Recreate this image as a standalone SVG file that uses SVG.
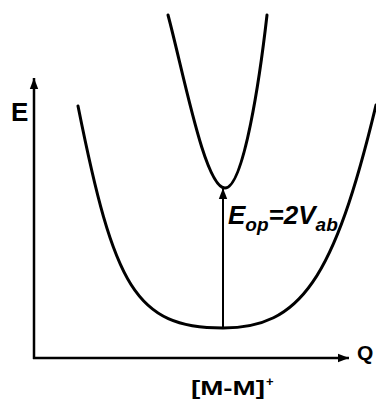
<svg xmlns="http://www.w3.org/2000/svg" width="376" height="400" viewBox="0 0 376 400">
<style>
.curve{fill:none;stroke:#000;stroke-width:3;stroke-linecap:round;stroke-linejoin:round}
.axis{fill:none;stroke:#000;stroke-width:2.5}
.arr{fill:none;stroke:#000;stroke-width:2}
.lbl{font-family:"Liberation Sans",Arial,sans-serif;font-weight:bold;fill:#000}
.it{font-style:italic}
</style>
<defs>
<marker id="ah" markerUnits="userSpaceOnUse" markerWidth="12" markerHeight="10" refX="11" refY="5" orient="auto">
<path d="M0,0.8 L11,5 L0,9.2 Z" fill="#000"/>
</marker>
</defs>
<g id="connectors">
<line id="y-axis" class="axis" x1="34" y1="359" x2="34" y2="78" marker-end="url(#ah)"/>
<line id="x-axis" class="axis" x1="33" y1="358" x2="349" y2="358" marker-end="url(#ah)"/>
<line id="transition" class="arr" x1="223" y1="328" x2="223" y2="188" marker-end="url(#ah)"/>
</g>
<g id="ground-curve">
<path class="curve" d="M78,106 C114,286 135,328 223,328 C300,328 334,280 376,105"/>
</g>
<g id="excited-curve">
<path class="curve" d="M168,15 C184,75 205,188 225,188 C244,188 260.2,75 267,15"/>
</g>
<g id="label-E">
<text class="lbl" x="11" y="121" font-size="26">E</text>
</g>
<g id="label-Q">
<text class="lbl" x="357" y="360" font-size="21">Q</text>
</g>
<g id="label-Eop">
<text class="lbl it" x="228" y="224" font-size="26">E<tspan font-size="19" dy="7">op</tspan><tspan dy="-7">=2V</tspan><tspan font-size="19" dy="7">ab</tspan></text>
</g>
<g id="label-MM">
<text class="lbl" x="191" y="395" font-size="20" textLength="74" lengthAdjust="spacingAndGlyphs">[M-M]</text>
<text class="lbl" x="266" y="386" font-size="13">+</text>
</g>
</svg>
